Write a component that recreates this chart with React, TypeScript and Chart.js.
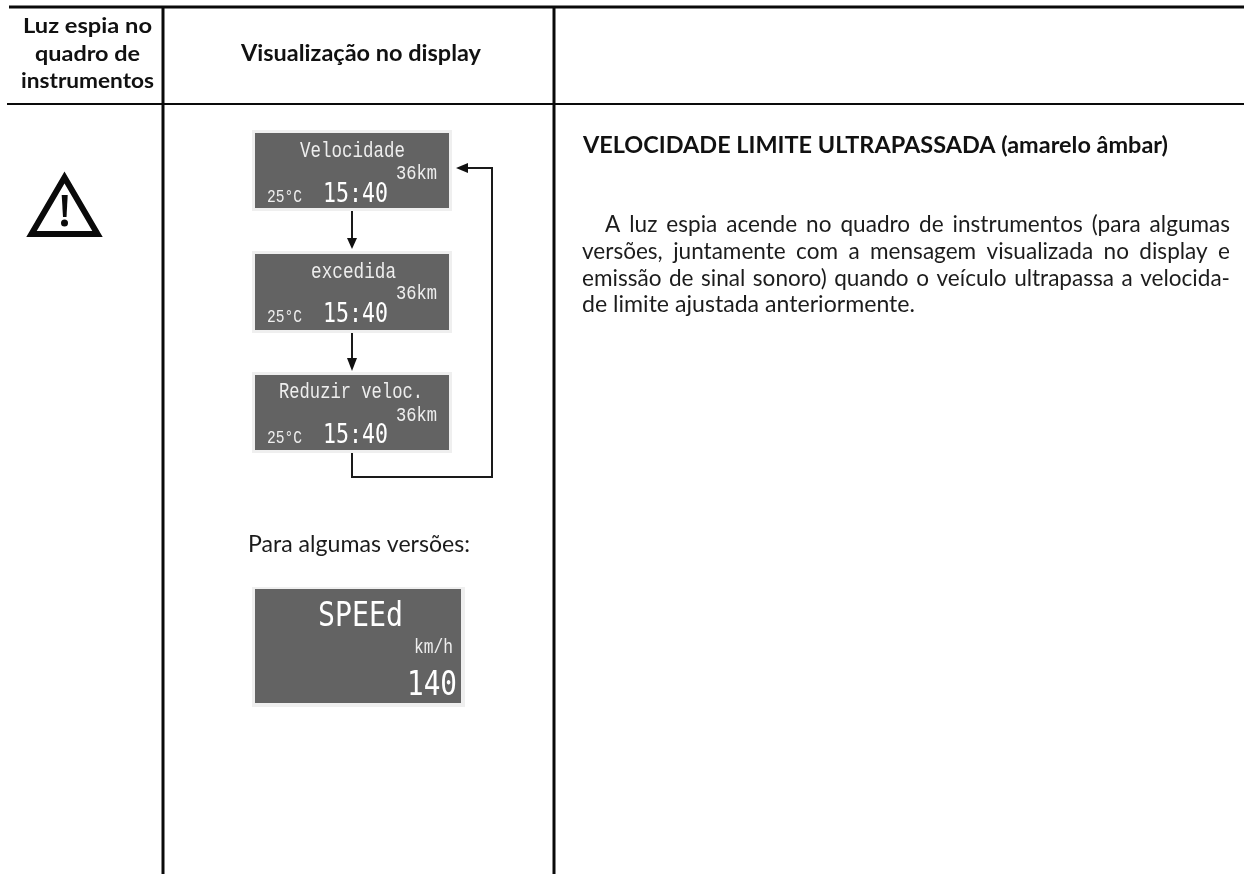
import React, { useEffect, useRef } from "react";
import { Chart, registerables } from "chart.js";

Chart.register(...registerables);

const W = 1244;
const H = 874;

// Content
const headerFirst = ["Luz espia no", "quadro de", "instrumentos"];
const headerSecond = ["Visualização no display"];
const displayTitles = ["Velocidade", "excedida", "Reduzir veloc."];
const displayDistance = "36km";
const displayTemp = "25°C";
const displayClock = "15:40";
const variantCaption = "Para algumas versões:";
const variantTitle = "SPEEd";
const variantUnit = "km/h";
const variantValue = "140";
const bodyTitle = "VELOCIDADE LIMITE ULTRAPASSADA (amarelo âmbar)";
const bodyLines = [
  "A luz espia acende no quadro de instrumentos (para algumas",
  "versões, juntamente com a mensagem visualizada no display e",
  "emissão de sinal sonoro) quando o veículo ultrapassa a velocida-",
  "de limite ajustada anteriormente.",
];

type P = [number, number];
const pts = (a: P[]) => a.map(([x, y]) => ({ x, y }));
const box = (l: number, t: number, r: number, b: number): P[] => [[l, t], [r, t], [r, b], [l, b], [l, t]];

// Table rules
const ruleHorizontal: P[][] = [
  [[9, 7], [1244, 7]],
  [[7, 104], [1244, 104]],
];
const ruleVertical: P[][] = [
  [[163, 7], [163, 874]],
  [[554, 7], [554, 874]],
];
// Display panels
const panels: P[][] = [
  box(255, 133, 449, 208),
  box(255, 254, 449, 330),
  box(255, 375, 449, 450),
  box(255, 589, 461, 703),
];
const panelFrames: P[][] = [
  box(252, 130, 452, 211),
  box(252, 251, 452, 333),
  box(252, 372, 452, 453),
  box(252, 587, 465, 707),
];
// Connectors
const connectors: P[][] = [
  [[352, 211], [352, 240]],
  [[352, 333], [352, 360]],
  [[352, 453], [352, 477], [492, 477], [492, 168], [465, 168]],
];
const arrowHeads: P[][] = [
  [[347, 238], [357, 238], [352, 249], [347, 238]],
  [[347, 358], [357, 358], [352, 371], [347, 358]],
  [[468, 163], [468, 173], [456, 168], [468, 163]],
];
// Warning sign
const warnOutline: P[] = [[64.5, 177.5], [97.5, 234], [31.5, 234], [64.5, 177.5], [97.5, 234]];
const warnBar: P[] = [[61.7, 195], [67.7, 195], [66.5, 217], [63, 217], [61.7, 195]];
const warnDot: P[] = [[64.5, 223]];

const line = (data: P[], color: string, width: number) => ({
  data: pts(data), showLine: true, borderColor: color, borderWidth: width,
  pointRadius: 0, fill: false, clip: false, borderCapStyle: "butt", borderJoinStyle: "miter", tension: 0,
});
const shape = (data: P[], color: string) => ({
  data: pts(data), showLine: true, borderColor: color, borderWidth: 0, backgroundColor: color,
  pointRadius: 0, fill: "shape", clip: false, tension: 0,
});

const SANS = '"Lato", "Open Sans", sans-serif';
const MONO = '"DejaVu Sans Mono", "Liberation Mono", monospace';
const MONO_THIN = '"Liberation Mono", "DejaVu Sans Mono", monospace';

const textPlugin = {
  id: "pageText",
  afterDatasetsDraw(chart: any) {
    const { ctx, scales } = chart;
    const X = (v: number) => scales.x.getPixelForValue(v);
    const Y = (v: number) => scales.y.getPixelForValue(v);
    // fit: place text exactly across [l, r] with a horizontal scale
    const fit = (t: string, l: number, r: number, y: number, font: string, color: string) => {
      ctx.save();
      ctx.font = font;
      ctx.fillStyle = color;
      ctx.textBaseline = "alphabetic";
      ctx.textAlign = "left";
      const w = ctx.measureText(t).width;
      ctx.translate(X(l), Y(y));
      ctx.scale((r - l) / w, 1);
      ctx.fillText(t, 0, 0);
      ctx.restore();
    };
    const justify = (t: string, l: number, r: number, y: number, font: string, color: string, sx: number) => {
      ctx.save();
      ctx.font = font;
      ctx.fillStyle = color;
      ctx.textBaseline = "alphabetic";
      ctx.textAlign = "left";
      const w = ctx.measureText(t).width;
      const spaces = t.split(" ").length - 1;
      (ctx as any).wordSpacing = `${((r - l) / sx - w) / spaces}px`;
      ctx.translate(X(l), Y(y));
      ctx.scale(sx, 1);
      ctx.fillText(t, 0, 0);
      ctx.restore();
    };

    const bold = (s: number) => `bold ${s}px ${SANS}`;
    const reg = (s: number) => `${s}px ${SANS}`;
    const ink = "#111111";
    const soft = "#1c1c1c";

    fit(headerFirst[0], 23, 152, 33, bold(21), ink);
    fit(headerFirst[1], 35, 140, 61, bold(21), ink);
    fit(headerFirst[2], 21, 154, 88, bold(21), ink);
    fit(headerSecond[0], 241, 481, 61, bold(22), ink);

    fit(bodyTitle, 583, 1168, 153, bold(22), ink);
    justify(bodyLines[0], 605, 1230, 232, reg(24), soft, 0.94);
    justify(bodyLines[1], 582, 1230, 259, reg(24), soft, 0.94);
    justify(bodyLines[2], 582, 1230, 286, reg(24), soft, 0.94);
    fit(bodyLines[3], 582, 915, 312, reg(24), soft);

    fit(variantCaption, 248, 470, 552, reg(24), soft);

    const titleSpans: [number, number][] = [[300, 405], [311, 396], [279, 423]];
    const titleBase = [157, 278, 398];
    const distBase = [179, 299, 421];
    const clockBase = [201.5, 322, 443];
    const pale = "#eeeeee";
    displayTitles.forEach((t, i) => {
      fit(t, titleSpans[i][0], titleSpans[i][1], titleBase[i], `22px ${MONO_THIN}`, pale);
      fit(displayDistance, 396, 437, distBase[i], `20px ${MONO_THIN}`, pale);
      fit(displayTemp, 267, 302, clockBase[i], `19px ${MONO_THIN}`, pale);
      fit(displayClock, 323, 388, clockBase[i], `27px ${MONO}`, "#ffffff");
    });
    fit(variantTitle, 318, 403, 626, `34px ${MONO}`, "#ffffff");
    fit(variantUnit, 414, 453, 653, `20px ${MONO_THIN}`, pale);
    fit(variantValue, 407, 457, 695, `34px ${MONO}`, "#ffffff");
  },
};

export default function App() {
  const ref = useRef<HTMLCanvasElement>(null);
  useEffect(() => {
    const chart = new Chart(ref.current as HTMLCanvasElement, {
      type: "scatter",
      data: {
        // Chart.js paints the first dataset last, so the list runs from top layer to bottom
        datasets: [
          { data: pts(warnDot), pointRadius: 3.5, pointBackgroundColor: "#0a0a0a", pointBorderWidth: 0, clip: false },
          shape(warnBar, "#0a0a0a"),
          line(warnOutline, "#0a0a0a", 6),
          ...arrowHeads.map((p) => shape(p, "#111111")),
          ...connectors.map((p) => line(p, "#1a1a1a", 2)),
          ...ruleVertical.map((p) => line(p, "#0a0a0a", 3)),
          ...ruleHorizontal.map((p, i) => line(p, "#0a0a0a", i === 0 ? 3 : 2)),
          ...panels.map((p) => shape(p, "#636363")),
          ...panelFrames.map((p) => shape(p, "#efefef")),
        ] as any,
      },
      options: {
        animation: false,
        responsive: false,
        layout: { padding: 0, autoPadding: false },
        plugins: { legend: { display: false }, tooltip: { enabled: false } },
        scales: {
          x: { type: "linear", display: false, min: 0, max: W },
          y: { type: "linear", display: false, min: 0, max: H, reverse: true },
        },
      },
      plugins: [textPlugin],
    } as any);
    return () => chart.destroy();
  }, []);
  return (
    <div style={{ position: "fixed", left: 0, top: 0, width: W, height: H, background: "#fff" }}>
      <canvas ref={ref} width={W} height={H} style={{ display: "block", width: W, height: H, filter: "blur(0.4px)" }} />
    </div>
  );
}
